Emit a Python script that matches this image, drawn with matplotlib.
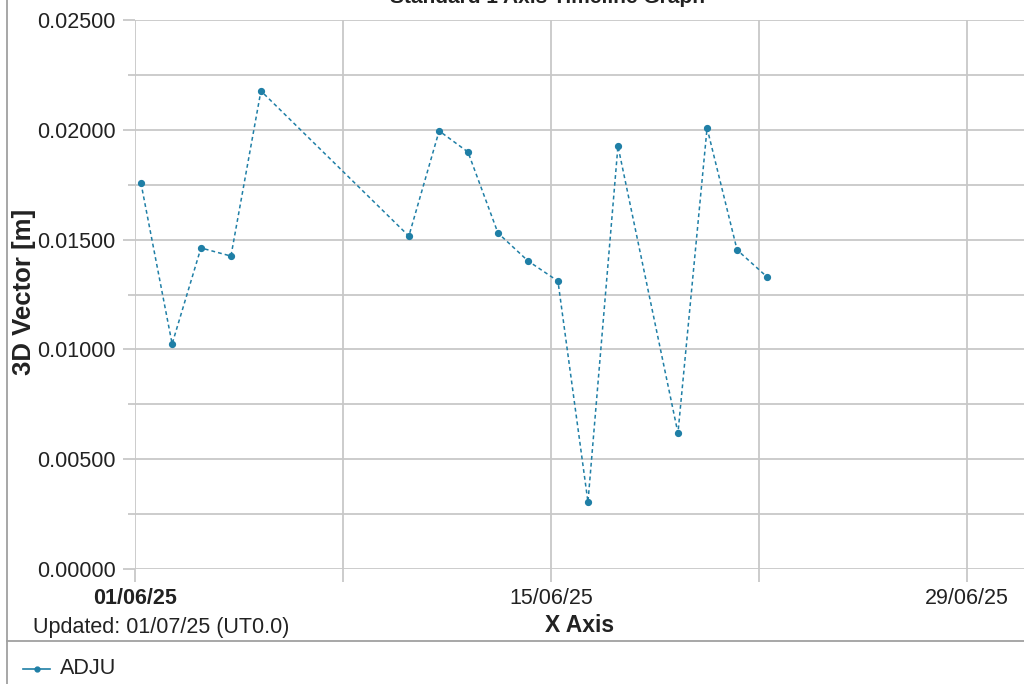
import numpy as np
import pandas as pd
import matplotlib
matplotlib.use("Agg")
import matplotlib.pyplot as plt
import matplotlib.dates as mdates
from matplotlib.lines import Line2D

plt.rcParams["font.family"] = ["Liberation Sans", "DejaVu Sans"]

# ADJU series, values
times = ["2025-06-01 04:48", "2025-06-02 06:00", "2025-06-03 05:17", "2025-06-04 05:31",
         "2025-06-05 05:45", "2025-06-10 05:17", "2025-06-11 05:45", "2025-06-12 05:02",
         "2025-06-13 05:17", "2025-06-14 05:31", "2025-06-15 05:45", "2025-06-16 06:00",
         "2025-06-17 06:14", "2025-06-19 06:43", "2025-06-20 06:14", "2025-06-21 06:29",
         "2025-06-22 06:43"]
vector_3d = [0.01758, 0.01025, 0.01462, 0.01425, 0.02177, 0.01516, 0.01995, 0.01899,
             0.01530, 0.01403, 0.01311, 0.00305, 0.01926, 0.00619, 0.02008, 0.01453,
             0.01330]
station = "ADJU"

x = pd.to_datetime(times)
colour = "#1f7fa6"
grid_c = "#c8c8c8"
txt_c = "#222222"
fs = 15.5

fig = plt.figure(figsize=(10.24, 6.84), dpi=100)
ax = fig.add_axes([135 / 1024, 1 - 569 / 684, 889 / 1024, 549 / 684])

ax.plot(x, vector_3d, linestyle=(0, (2.5, 2)), color=colour, lw=1.1,
        marker="o", markersize=4.2, zorder=3)

ax.set_xlim(pd.Timestamp("2025-06-01"), pd.Timestamp("2025-06-01") + pd.Timedelta(days=29.93))
ax.set_ylim(0, 0.025)

ax.xaxis.set_major_locator(mdates.DayLocator(bymonthday=[1, 8, 15, 22, 29]))


def date_fmt(v, pos):
    d = mdates.num2date(v)
    if d.day in (8, 22):
        return ""
    return d.strftime("%d/%m/%y")


ax.xaxis.set_major_formatter(plt.FuncFormatter(date_fmt))
ax.set_yticks(np.arange(0, 0.0251, 0.005))
ax.set_yticks(np.arange(0.0025, 0.025, 0.005), minor=True)
ax.yaxis.set_major_formatter(plt.FuncFormatter(lambda v, p: f"{v:.5f}"))

ax.grid(True, which="both", color=grid_c, lw=1.3)
ax.set_axisbelow(True)
for s in ax.spines.values():
    s.set_visible(False)
ax.tick_params(axis="y", which="major", length=9, color=grid_c, width=1.3,
               labelsize=fs, labelcolor=txt_c, pad=5)
ax.tick_params(axis="y", which="minor", length=5, color=grid_c, width=1.3)
ax.tick_params(axis="x", length=9, color=grid_c, width=1.3, labelsize=fs,
               labelcolor=txt_c, pad=5)
fig.canvas.draw()
for lab in ax.get_xticklabels():
    if lab.get_text() == "01/06/25":
        lab.set_fontweight("bold")

fig.text(24 / 1024, 1 - 292 / 684, "3D Vector [m]", rotation=90, ha="center",
         va="center", fontsize=18.5, fontweight="bold", color=txt_c)
fig.text(580 / 1024, 1 - 626 / 684, "X Axis", ha="center", va="center",
         fontsize=16.5, fontweight="bold", color=txt_c)
fig.text(33 / 1024, 1 - 627 / 684, "Updated: 01/07/25 (UT0.0)", ha="left", va="center",
         fontsize=fs, color=txt_c)
fig.text(548 / 1024, 1 + 3 / 684, "Standard 1 Axis Timeline Graph", ha="center",
         va="center", fontsize=15, fontweight="bold", color=txt_c)

# frame lines and legend area
fig.add_artist(Line2D([7 / 1024, 7 / 1024], [0, 1], color="#a0a0a0", lw=1.3,
                      transform=fig.transFigure))
fig.add_artist(Line2D([7 / 1024, 1], [1 - 641 / 684, 1 - 641 / 684], color="#a0a0a0",
                      lw=1.3, transform=fig.transFigure))
fig.add_artist(Line2D([23 / 1024, 50 / 1024], [1 - 669 / 684, 1 - 669 / 684], color=colour,
                      lw=1.2, transform=fig.transFigure))
fig.add_artist(Line2D([36.5 / 1024], [1 - 669 / 684], color=colour, marker="o",
                      markersize=3.5, transform=fig.transFigure))
fig.text(60 / 1024, 1 - 669 / 684, station, ha="left", va="center", fontsize=fs,
         color=txt_c)

fig.savefig("out.png", dpi=100)
